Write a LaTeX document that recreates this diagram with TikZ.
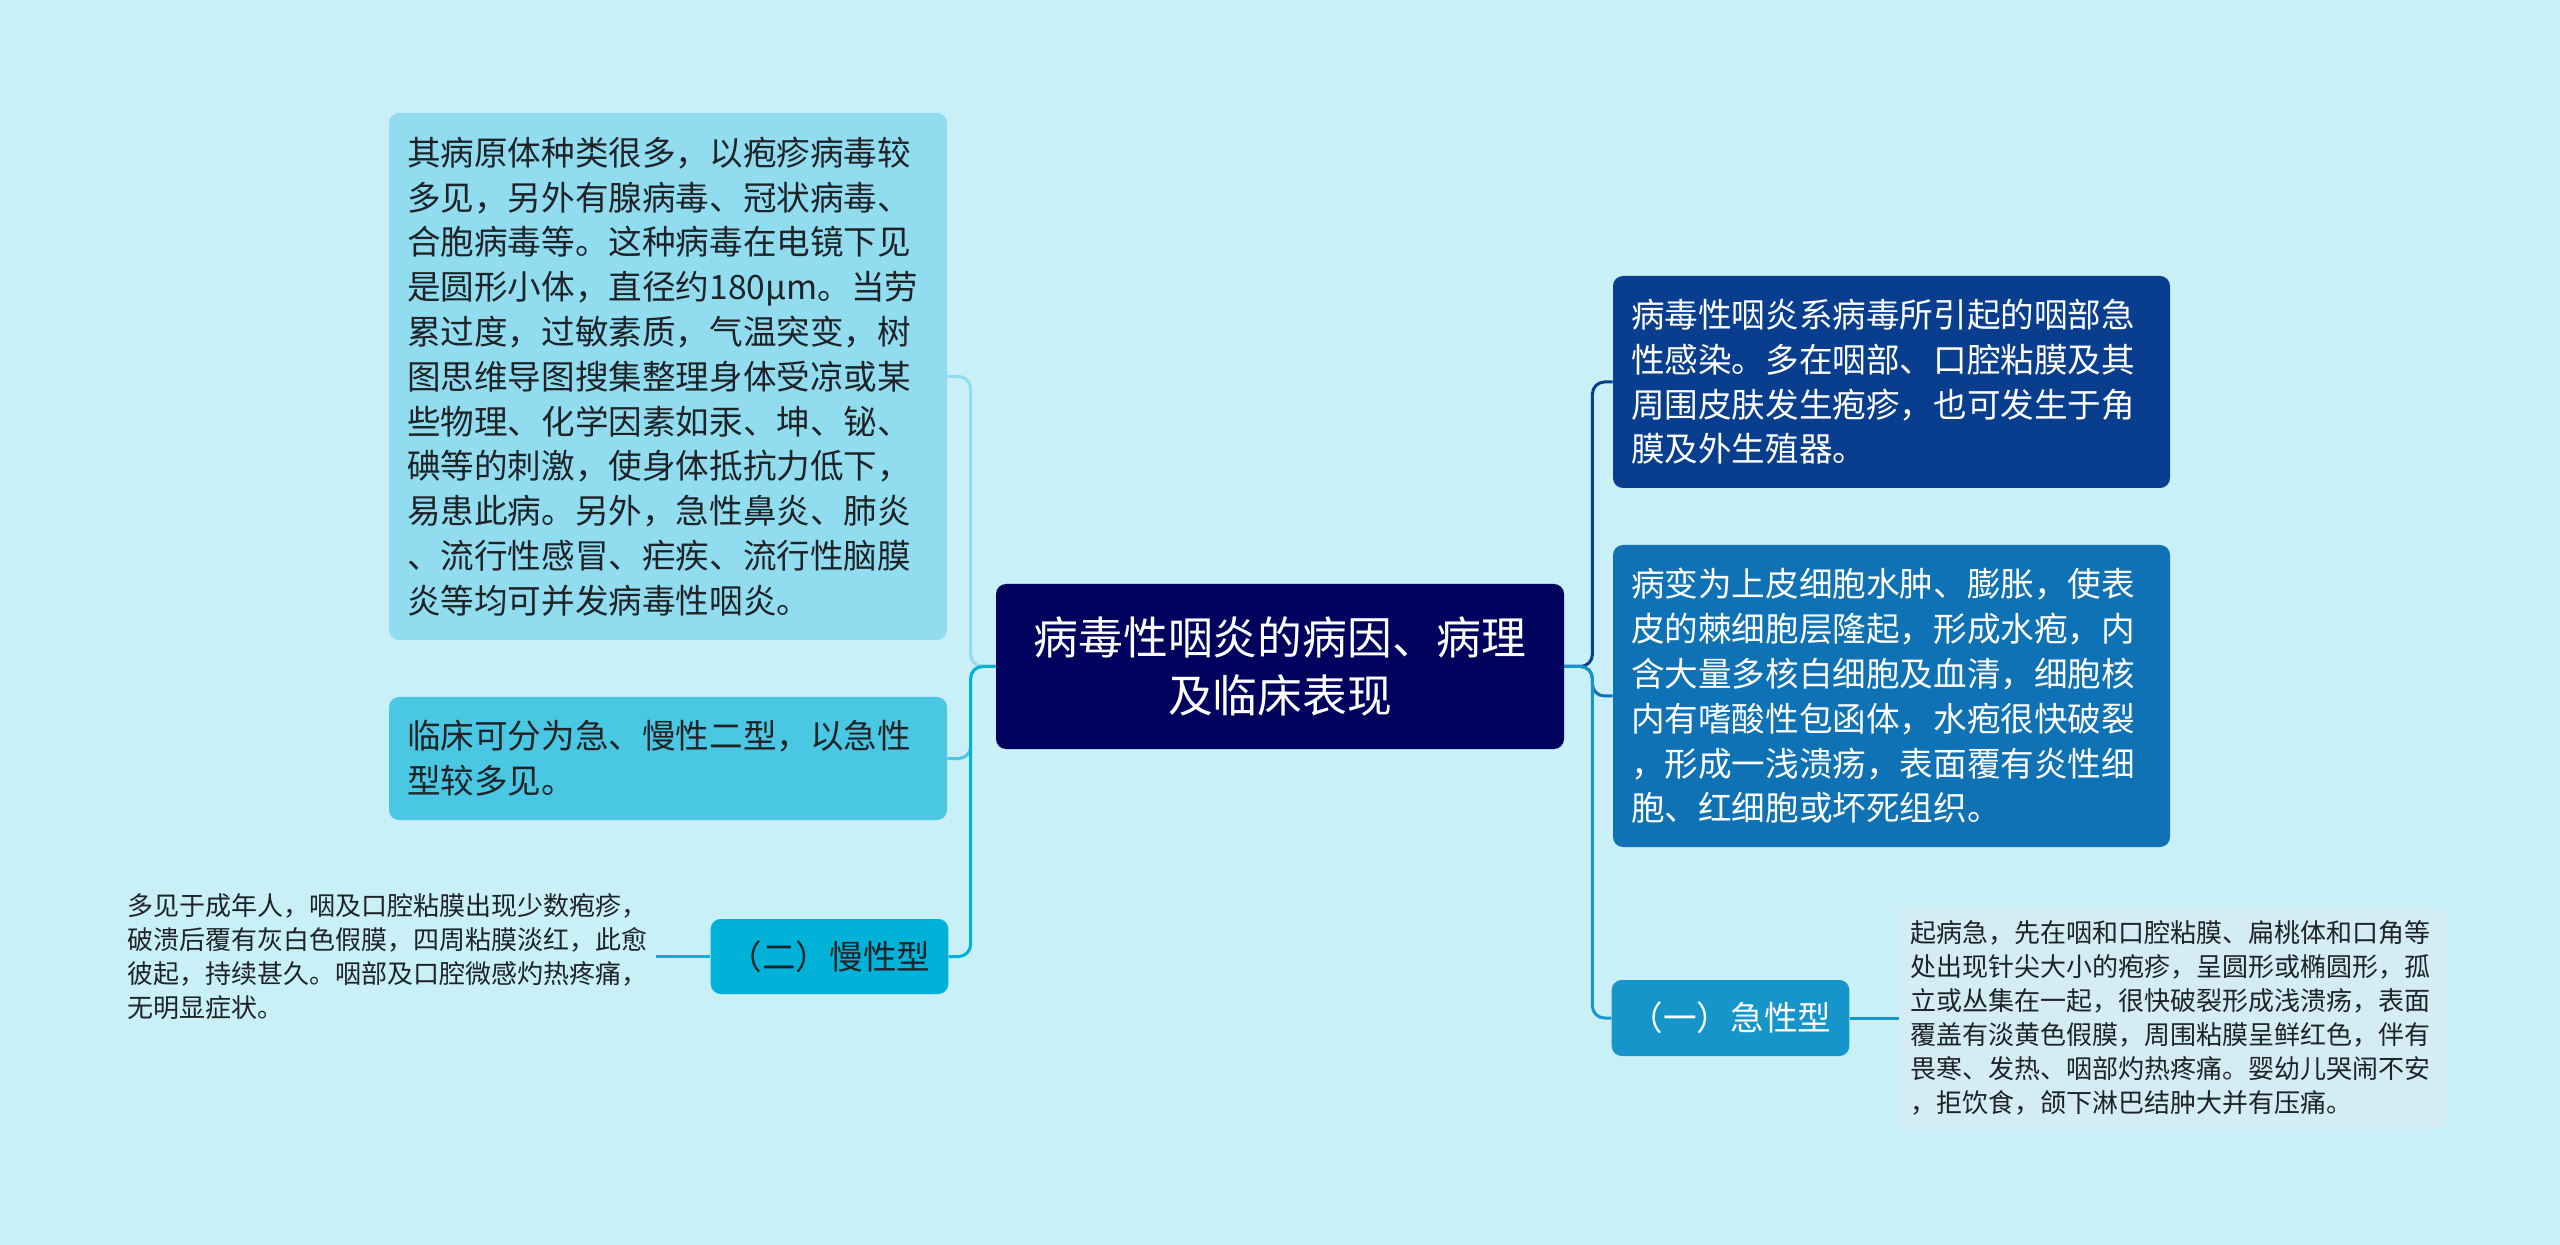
\documentclass[tikz,border=0pt]{standalone}
\usepackage{fontspec}
\setmainfont{Noto Sans CJK SC}
\definecolor{bgcyan}{RGB}{201,239,247}
\definecolor{rootnavy}{RGB}{1,2,94}
\definecolor{lcyanA}{RGB}{145,221,239}
\definecolor{lcyanB}{RGB}{74,200,227}
\definecolor{lcyanC}{RGB}{0,178,216}
\definecolor{rblueA}{RGB}{8,62,141}
\definecolor{rblueB}{RGB}{14,114,180}
\definecolor{rblueC}{RGB}{22,149,202}
\definecolor{leafgrey}{RGB}{212,236,244}
\definecolor{textdark}{RGB}{30,35,40}

\begin{document}
\begin{tikzpicture}[x=0.5pt, y=-0.5pt,
  box/.style={rounded corners=5pt, inner xsep=9pt, inner ysep=0pt, align=left,
    font=\fontsize{16.8pt}{22.4pt}\selectfont},
  link/.style={line width=1.5pt, rounded corners=6pt},
  leaf/.style={align=left, text=textdark, font=\fontsize{13pt}{17pt}\selectfont}]
%\draw[help lines, color=gray!30, dashed] (0,0) grid[step=100] (2560,1245);
\useasboundingbox[fill=bgcyan] (0,0) rectangle (2560,1245);

\node[box, fill=rootnavy, text=white, minimum width=284pt, minimum height=82.5pt, align=center,
  font=\fontsize{22.4pt}{29.4pt}\selectfont] (root) at (1280,666.5) {病毒性咽炎的病因、病理\\及临床表现};

% left side
\node[box, fill=lcyanA, text=textdark, text width=261pt, minimum height=263.5pt] (cause) at (668,376.5)
  {其病原体种类很多，以疱疹病毒较\\多见，另外有腺病毒、冠状病毒、\\合胞病毒等。这种病毒在电镜下见\\是圆形小体，直径约180μm。当劳\\累过度，过敏素质，气温突变，树\\图思维导图搜集整理身体受凉或某\\些物理、化学因素如汞、坤、铋、\\碘等的刺激，使身体抵抗力低下，\\易患此病。另外，急性鼻炎、肺炎\\、流行性感冒、疟疾、流行性脑膜\\炎等均可并发病毒性咽炎。};
\node[box, fill=lcyanB, text=textdark, text width=261pt, minimum height=61.5pt] (types) at (668,758.5)
  {临床可分为急、慢性二型，以急性\\型较多见。};
\node[box, fill=lcyanC, text=textdark, minimum width=117.5pt, minimum height=37.5pt, align=center] (chronic) at (829.5,956.5) {（二）慢性型};
\node[leaf, anchor=east, inner xsep=4pt] (chronictxt) at (656,956.5)
  {多见于成年人，咽及口腔粘膜出现少数疱疹，\\破溃后覆有灰白色假膜，四周粘膜淡红，此愈\\彼起，持续甚久。咽部及口腔微感灼热疼痛，\\无明显症状。};

% right side
\node[box, fill=rblueA, text=white, text width=260.5pt, minimum height=106pt] (intro) at (1891.5,382)
  {病毒性咽炎系病毒所引起的咽部急\\性感染。多在咽部、口腔粘膜及其\\周围皮肤发生疱疹，也可发生于角\\膜及外生殖器。};
\node[box, fill=rblueB, text=white, text width=260.5pt, minimum height=151pt] (patho) at (1891.5,696)
  {病变为上皮细胞水肿、膨胀，使表\\皮的棘细胞层隆起，形成水疱，内\\含大量多核白细胞及血清，细胞核\\内有嗜酸性包函体，水疱很快破裂\\，形成一浅溃疡，表面覆有炎性细\\胞、红细胞或坏死组织。};
\node[box, fill=rblueC, text=white, minimum width=117.5pt, minimum height=38pt, align=center] (acute) at (1730.5,1018) {（一）急性型};
\node[leaf, fill=leafgrey, rounded corners=5pt, inner xsep=5.5pt, text width=263pt, minimum height=110.5pt] (acutetxt) at (2173,1018)
  {起病急，先在咽和口腔粘膜、扁桃体和口角等\\处出现针尖大小的疱疹，呈圆形或椭圆形，孤\\立或丛集在一起，很快破裂形成浅溃疡，表面\\覆盖有淡黄色假膜，周围粘膜呈鲜红色，伴有\\畏寒、发热、咽部灼热疼痛。婴幼儿哭闹不安\\，拒饮食，颌下淋巴结肿大并有压痛。};

\draw[link, draw=lcyanA] (root.west) -- ++(-25,0) |- (cause.east);
\draw[link, draw=lcyanB] (root.west) -- ++(-25,0) |- (types.east);
\draw[link, draw=lcyanC] (root.west) -- ++(-25,0) |- (chronic.east);
\draw[link, draw=lcyanC] (chronic.west) -- (chronictxt.east);
\draw[link, draw=rblueA] (root.east) -- ++(28,0) |- (intro.west);
\draw[link, draw=rblueB] (root.east) -- ++(28,0) |- (patho.west);
\draw[link, draw=rblueC] (root.east) -- ++(28,0) |- (acute.west);
\draw[link, draw=rblueC] (acute.east) -- (acutetxt.west);
\end{tikzpicture}
\end{document}
